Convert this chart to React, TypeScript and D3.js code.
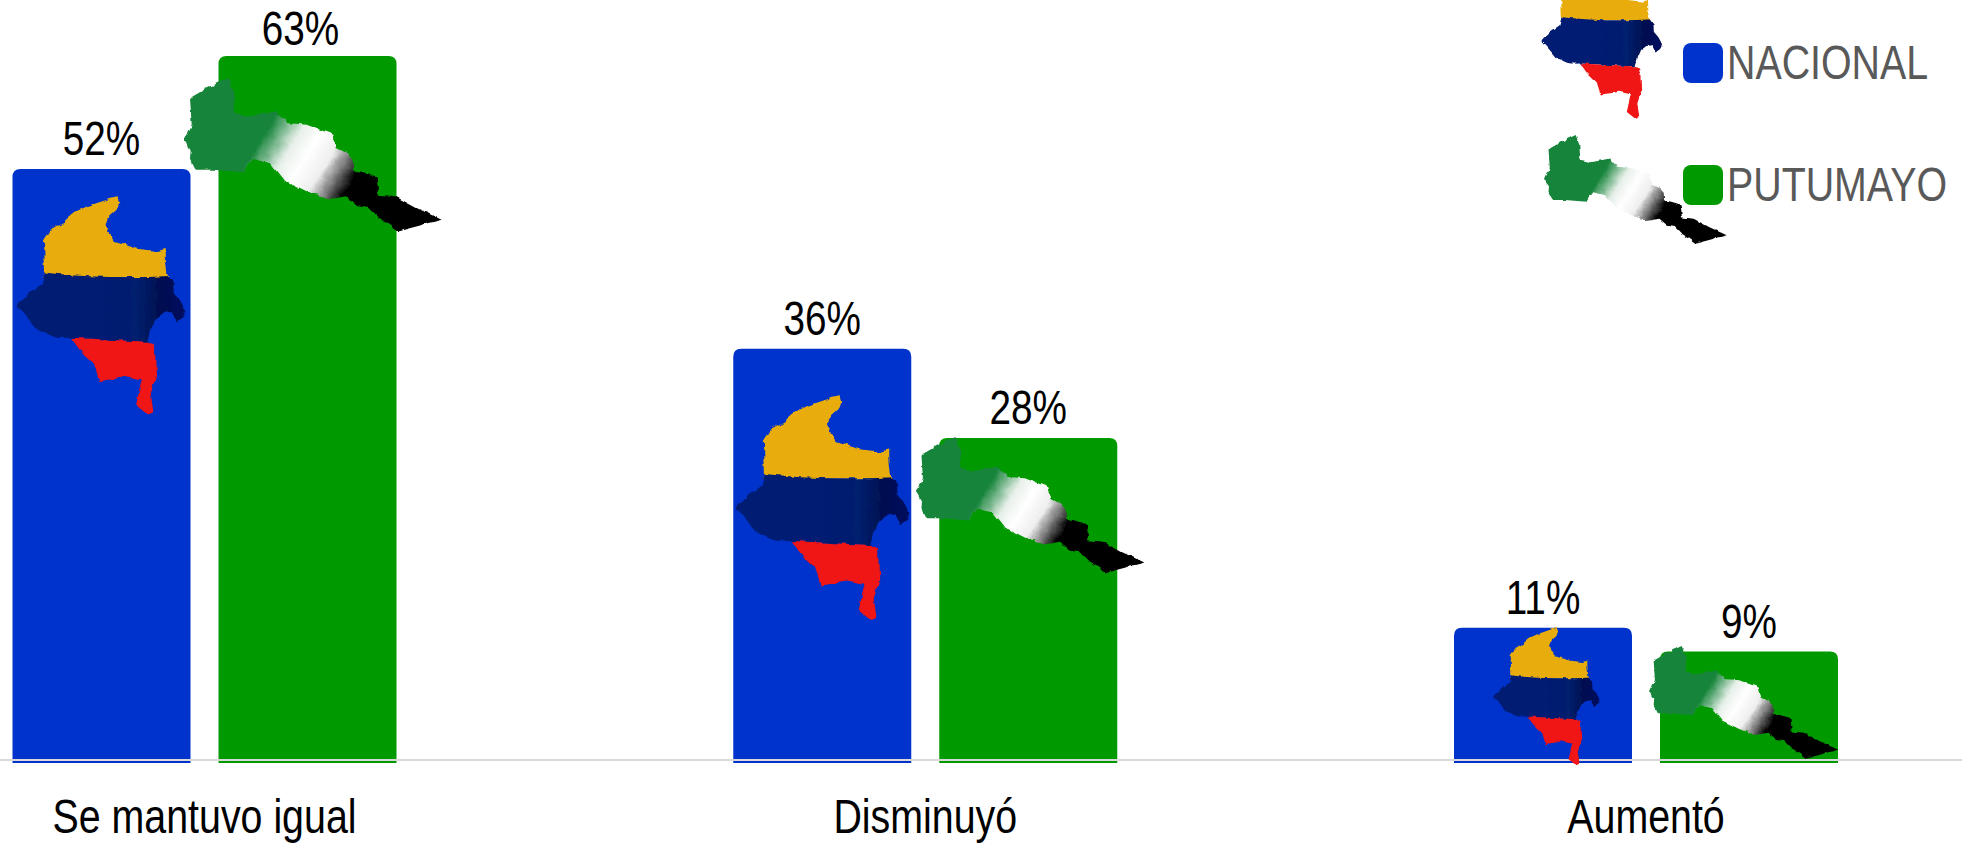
import React from "react";
import * as d3 from "d3";

const categories = ["Se mantuvo igual", "Disminuyó", "Aumentó"];
const seriesNames = ["NACIONAL", "PUTUMAYO"];
const nacional = [52.3, 36.4, 11.7];
const putumayo = [62.3, 28.5, 9.6];
const nacionalLabels = ["52%", "36%", "11%"];
const putumayoLabels = ["63%", "28%", "9%"];
const seriesColors = ["#0033cc", "#009900"];

// Outlines of the two map emblems (emblem's own drawing units)
const colombiaOutline: [number, number][] = [
  [352,590],[358,605],[350,628],[328,648],[320,668],[325,700],[345,725],[385,738],[410,745],[470,752],[497,746],[498,790],[503,825],[520,848],[522,880],[540,900],[556,930],[548,955],[533,966],[518,935],[490,938],[468,955],[455,985],[445,1020],[465,1040],[468,1130],[452,1180],[460,1232],[440,1240],[408,1215],[425,1140],[370,1130],[345,1135],[298,1142],[282,1090],[240,1050],[215,1015],[175,1012],[150,1005],[110,985],[80,950],[48,915],[85,880],[125,852],[135,815],[132,720],[155,685],[190,665],[225,635],[262,618],[330,595],
];
const putumayoOutline: [number, number][] = [
  [570,295],[630,260],[685,235],[700,275],[705,340],[750,350],[830,335],[860,370],[920,375],[1000,405],[1010,445],[1040,460],[1058,480],[1060,512],[1090,518],[1130,530],[1135,585],[1185,590],[1250,625],[1325,660],[1195,695],[1165,672],[1130,650],[1105,625],[1075,620],[1040,590],[990,598],[920,575],[850,540],[810,490],[760,478],[730,518],[640,510],[585,510],[570,480],[572,450],[555,420],[575,375],
];
const colombiaPlacements = [
  { left: 16, top: 197, scale: 1 },
  { left: 735, top: 396, scale: 1.03 },
  { left: 1493, top: 628, scale: 0.63 },
  { left: 1541, top: -37, scale: 0.715 },
];
const putumayoPlacements = [
  { left: 185, top: 78, scale: 1 },
  { left: 917, top: 437, scale: 0.886 },
  { left: 1650, top: 646, scale: 0.733 },
  { left: 1545, top: 135, scale: 0.708 },
];

const WIDTH = 1962;
const HEIGHT = 844;
const BASE = 760;
const BAR_W = 178;
const GAP = 28;
const FONT = "'Liberation Sans', Arial, sans-serif";

const x = d3.scalePoint<string>().domain(categories).range([204.5, 1646]);
const y = d3.scaleLinear().domain([0, 62.3]).range([BASE, 56]);
const poly = d3.line();

function topRounded(x0: number, top: number, w: number, bottom: number, r: number) {
  const p = d3.path();
  p.moveTo(x0, bottom);
  p.lineTo(x0, top + r);
  p.quadraticCurveTo(x0, top, x0 + r, top);
  p.lineTo(x0 + w - r, top);
  p.quadraticCurveTo(x0 + w, top, x0 + w, top + r);
  p.lineTo(x0 + w, bottom);
  p.closePath();
  return p.toString();
}

function Squeezed(props: { x: number; y: number; size: number; fill: string; sx: number; anchor?: string; children: string }) {
  return (
    <text
      transform={`translate(${props.x},${props.y}) scale(${props.sx},1)`}
      fontFamily={FONT}
      fontSize={props.size}
      fill={props.fill}
      textAnchor={props.anchor ?? "middle"}
    >
      {props.children}
    </text>
  );
}

const cBox = { x: d3.min(colombiaOutline, (d) => d[0])!, y: d3.min(colombiaOutline, (d) => d[1])! };
const pBox = { x: d3.min(putumayoOutline, (d) => d[0])!, y: d3.min(putumayoOutline, (d) => d[1])! };

function placeTransform(p: { left: number; top: number; scale: number }, box: { x: number; y: number }) {
  const k = p.scale / 3;
  return `translate(${p.left - box.x * k},${p.top - box.y * k}) scale(${k})`;
}

export default function App() {
  const cPath = poly(colombiaOutline)! + "Z";
  const pPath = poly(putumayoOutline)! + "Z";
  return (
    <svg
      width={WIDTH}
      height={HEIGHT}
      viewBox={`0 0 ${WIDTH} ${HEIGHT}`}
      style={{ position: "fixed", left: 0, top: 0, display: "block", background: "#fff" }}
    >
      <defs>
        <filter id="rough" x="-8%" y="-8%" width="116%" height="116%" filterUnits="objectBoundingBox">
          <feTurbulence type="fractalNoise" baseFrequency="0.035" numOctaves="2" seed="4" result="n" />
          <feDisplacementMap in="SourceGraphic" in2="n" scale="16" xChannelSelector="R" yChannelSelector="G" result="d" />
          <feGaussianBlur in="d" stdDeviation="2.2" />
        </filter>
        <clipPath id="colClip">
          <path d={cPath} />
        </clipPath>
        <linearGradient id="navyShade" x1="300" y1="0" x2="540" y2="0" gradientUnits="userSpaceOnUse">
          <stop offset="0" stopColor="#001a73" />
          <stop offset="0.45" stopColor="#00206e" />
          <stop offset="0.75" stopColor="#000f50" />
          <stop offset="1" stopColor="#00115c" />
        </linearGradient>
        <linearGradient id="putGrad" x1="770" y1="400" x2="1080" y2="590" gradientUnits="userSpaceOnUse">
          <stop offset="0.06" stopColor="#17853b" />
          <stop offset="0.3" stopColor="#e8f0ea" />
          <stop offset="0.45" stopColor="#ffffff" />
          <stop offset="0.62" stopColor="#eeeeee" />
          <stop offset="0.88" stopColor="#000000" />
        </linearGradient>
        <g id="colombia">
          <g filter="url(#rough)">
            <g clipPath="url(#colClip)">
              <rect x="0" y="560" width="620" height="270" fill="#e8ad0c" />
              <path d="M100,812 Q300,840 520,826 L620,830 L620,1040 L440,1024 L215,1012 L0,1020 Z" fill="url(#navyShade)" />
              <path d="M215,1012 L440,1024 L520,1022 L520,1260 L215,1260 Z" fill="#f01212" />
            </g>
          </g>
        </g>
        <g id="putumayoMap">
          <path d={pPath} fill="url(#putGrad)" filter="url(#rough)" />
        </g>
      </defs>

      {categories.map((c, i) => {
        const cx = x(c)!;
        const left = cx - GAP / 2 - BAR_W;
        const right = cx + GAP / 2;
        return (
          <g key={c}>
            <path d={topRounded(left, y(nacional[i]), BAR_W, BASE + 3, 8)} fill={seriesColors[0]} />
            <path d={topRounded(right, y(putumayo[i]), BAR_W, BASE + 3, 8)} fill={seriesColors[1]} />
            <Squeezed x={left + BAR_W / 2} y={y(nacional[i]) - 14} size={49} sx={0.79} fill="#000">{nacionalLabels[i]}</Squeezed>
            <Squeezed x={right + BAR_W / 2 - (i === 0 ? 7 : 0)} y={y(putumayo[i]) - (i === 0 ? 11 : 14)} size={49} sx={0.79} fill="#000">{putumayoLabels[i]}</Squeezed>
            <Squeezed x={cx} y={833} size={48} sx={0.82} fill="#000">{c}</Squeezed>
          </g>
        );
      })}

      <line x1={0} x2={WIDTH} y1={BASE} y2={BASE} stroke="#d9d9d9" strokeWidth={2} />

      {colombiaPlacements.map((p, i) => (
        <use key={i} href="#colombia" transform={placeTransform(p, cBox)} />
      ))}
      {putumayoPlacements.map((p, i) => (
        <use key={i} href="#putumayoMap" transform={placeTransform(p, pBox)} />
      ))}

      {seriesNames.map((s, i) => {
        const top = 43 + i * 122;
        return (
          <g key={s}>
            <rect x={1683} y={top} width={40} height={40} rx={8} fill={seriesColors[i]} />
            <Squeezed x={1727} y={top + 36} size={48} sx={0.82} fill="#595959" anchor="start">{s}</Squeezed>
          </g>
        );
      })}
    </svg>
  );
}
